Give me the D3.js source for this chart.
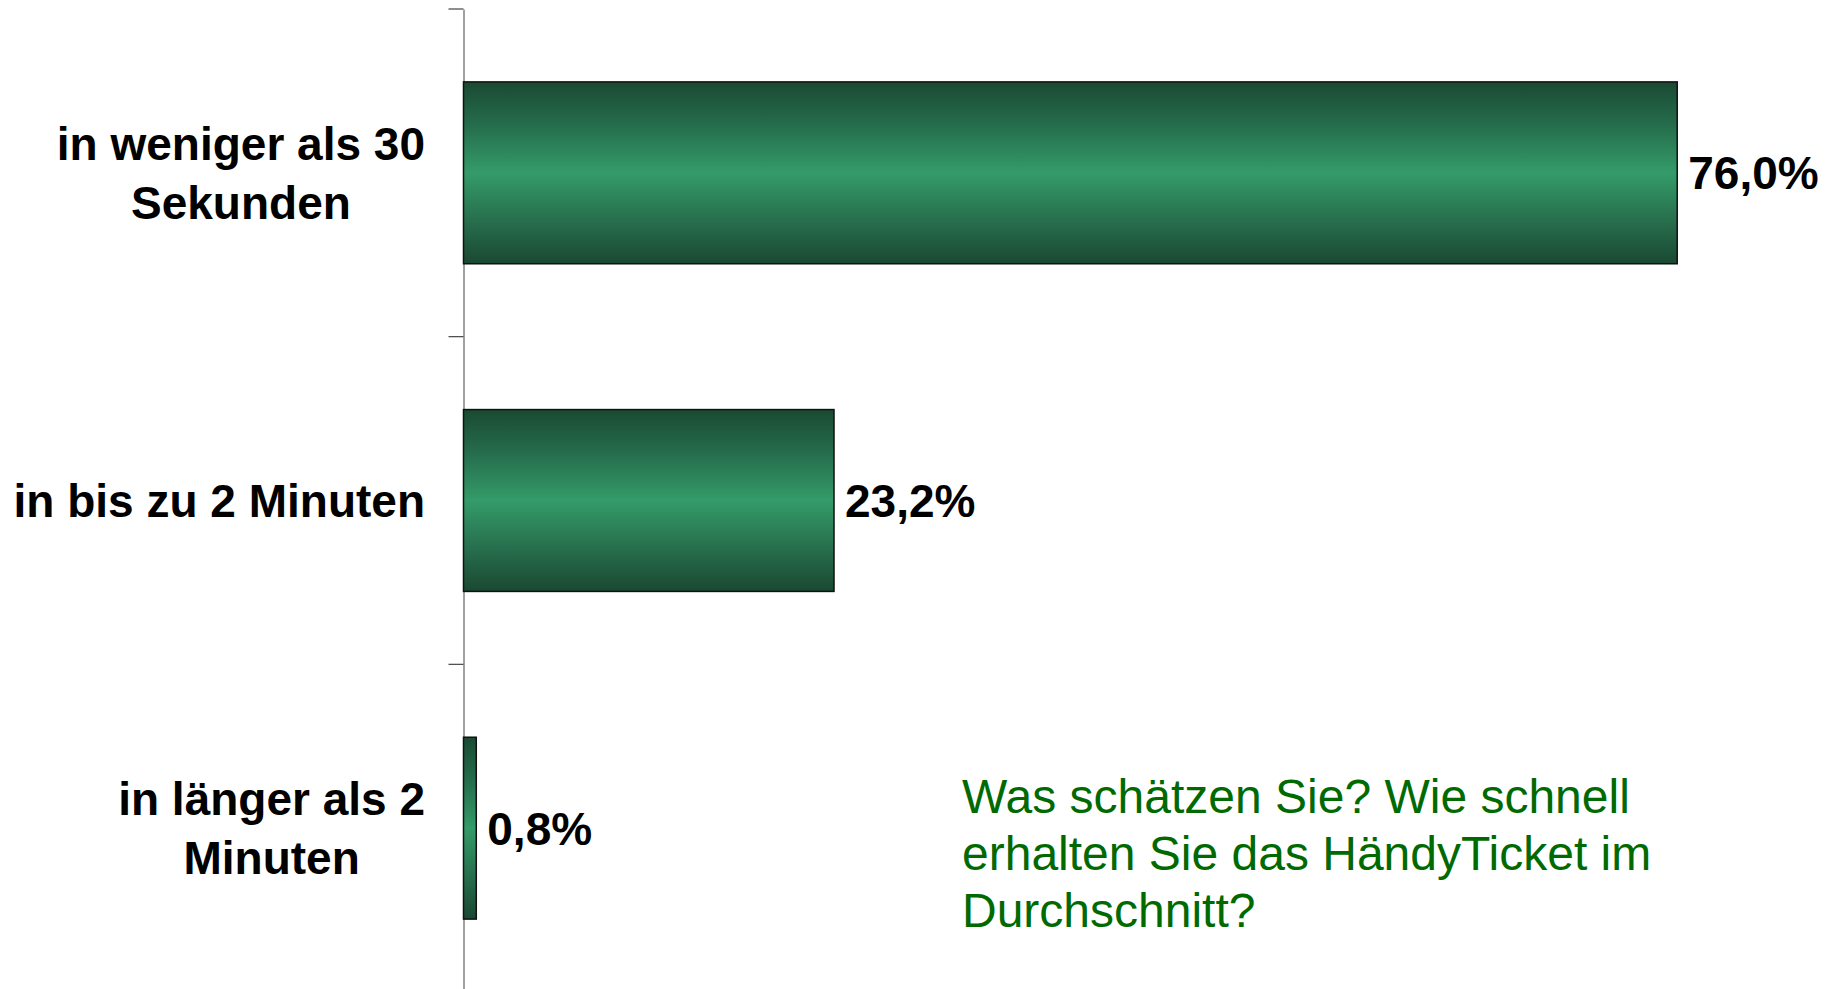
<!DOCTYPE html>
<html>
<head>
<meta charset="utf-8">
<script src="https://cdn.jsdelivr.net/npm/d3@7"></script>
<style>
  body { margin: 0; background: #fff; }
  svg { display: block; font-family: "Liberation Sans", Arial, sans-serif; }
</style>
</head>
<body>
<div id="chart"></div>
<script>
const categories = [
    ["in weniger als 30", "Sekunden"],
    ["in bis zu 2 Minuten"],
    ["in länger als 2", "Minuten"]
];
const values = [76.0, 23.2, 0.8];
const valueLabels = ["76,0%", "23,2%", "0,8%"];
const questionLines = [
    "Was schätzen Sie? Wie schnell",
    "erhalten Sie das HändyTicket im",
    "Durchschnitt?"
];

const width = 1840, height = 989;
const axisX = 463.5;

const svg = d3.select("#chart")
    .append("svg")
    .attr("width", width)
    .attr("height", height);

const defs = svg.append("defs");
const grad = defs.append("linearGradient")
    .attr("id", "barGrad")
    .attr("x1", 0).attr("y1", 0).attr("x2", 0).attr("y2", 1);
[[0, "#1a4a33"], [0.22, "#246a4a"], [0.5, "#349b69"], [0.78, "#266c4b"], [1, "#1a4832"]]
    .forEach(s => grad.append("stop").attr("offset", s[0]).attr("stop-color", s[1]));

const keys = categories.map((c, i) => i);

const x = d3.scaleLinear()
    .domain([0, 80])
    .range([axisX, axisX + 80 * 15.97]);

const y = d3.scaleBand()
    .domain(keys)
    .range([9, 992])
    .paddingInner(0.445)
    .paddingOuter(0.2225);

// axis line
svg.append("g")
    .attr("transform", "translate(" + axisX + ",0)")
    .call(d3.axisLeft(y).tickSize(0).tickFormat(""))
    .call(g => g.select(".domain").attr("stroke", "#6e6e6e").attr("stroke-width", 1.3));

// ticks between categories
const step = y.step();
const tickYs = keys.map(i => y(i) - step * y.paddingInner() / 2);
svg.append("g")
    .selectAll("line")
    .data(tickYs)
    .enter()
    .append("line")
    .attr("x1", axisX - 15)
    .attr("x2", axisX)
    .attr("y1", d => d)
    .attr("y2", d => d)
    .attr("stroke", "#444")
    .attr("stroke-width", 1.2);

// bars
svg.append("g")
    .selectAll("rect")
    .data(values)
    .enter()
    .append("rect")
    .attr("x", x(0))
    .attr("y", (d, i) => y(i))
    .attr("width", d => x(d) - x(0))
    .attr("height", y.bandwidth())
    .attr("fill", "url(#barGrad)")
    .attr("stroke", "#111")
    .attr("stroke-width", 1.5);

// value labels
svg.append("g")
    .selectAll("text")
    .data(values)
    .enter()
    .append("text")
    .attr("x", d => x(d) + 11)
    .attr("y", (d, i) => y(i) + y.bandwidth() / 2 + 16.5)
    .attr("font-size", 46)
    .attr("font-weight", "bold")
    .attr("fill", "#000")
    .text((d, i) => valueLabels[i]);

// category labels
const lineH = 59;
const labelRight = 425;
categories.forEach((lines, i) => {
    const t = svg.append("text")
        .attr("font-size", 46)
        .attr("font-weight", "bold")
        .attr("fill", "#000")
        .attr("text-anchor", "middle");
    const cy = y(i) + y.bandwidth() / 2;
    const spans = lines.map((l, j) => t.append("tspan")
        .attr("y", cy + 16.5 + (j - (lines.length - 1) / 2) * lineH)
        .text(l));
    const maxW = d3.max(spans, s => s.node().getComputedTextLength());
    spans.forEach(s => s.attr("x", labelRight - maxW / 2));
});

// question text
svg.append("text")
    .attr("font-size", 48)
    .attr("fill", "#006a00")
    .selectAll("tspan")
    .data(questionLines)
    .enter()
    .append("tspan")
    .attr("x", 962)
    .attr("y", (d, i) => 813 + i * 57)
    .text(d => d);
</script>
</body>
</html>
